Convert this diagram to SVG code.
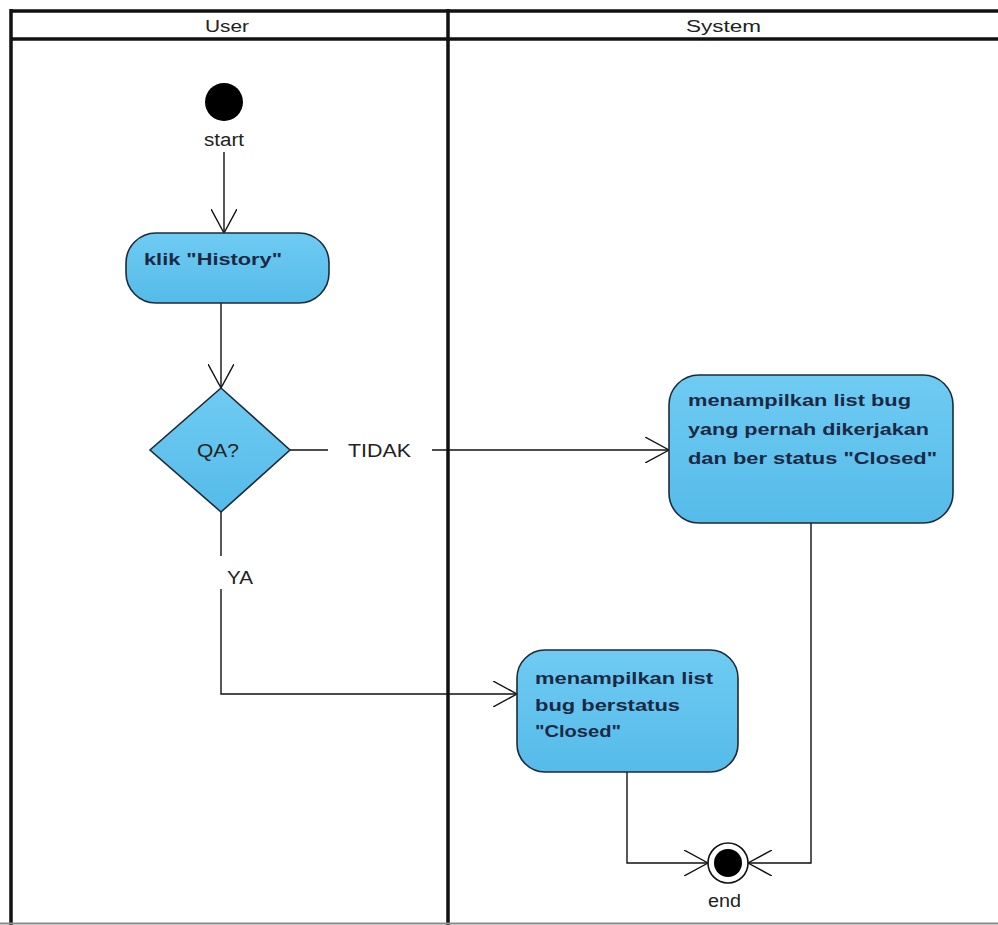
<svg xmlns="http://www.w3.org/2000/svg" width="998" height="925" viewBox="0 0 998 925">
  <style>
    .lane { stroke: #111; stroke-width: 3.5; fill: none; }
    .hdr { font-family: "Liberation Sans", Arial, sans-serif; font-size: 16px; fill: #222; }
    .act { fill: url(#actFill); stroke: #1e2a38; stroke-width: 1.6; }
    .atxt { font-family: "Liberation Sans", Arial, sans-serif; font-size: 17px; font-weight: bold; fill: #1b2945; }
    .lbl { font-family: "Liberation Sans", Arial, sans-serif; font-size: 18px; fill: #222; }
    .flow { stroke: #111; stroke-width: 1.4; fill: none; }
  </style>
  <defs>
    <linearGradient id="actFill" x1="0" y1="0" x2="0" y2="1">
      <stop offset="0" stop-color="#6fcbf2"/>
      <stop offset="1" stop-color="#55bbe9"/>
    </linearGradient>
    <marker id="open" viewBox="0 0 24 26" refX="24" refY="13" markerWidth="24" markerHeight="26" markerUnits="userSpaceOnUse" orient="auto">
      <path d="M0,0 L24,13 L0,26" fill="none" stroke="#111" stroke-width="1.4"/>
    </marker>
  </defs>

  <rect width="998" height="925" fill="#fff"/>

  <!-- swimlanes -->
  <g id="lanes">
    <line class="lane" x1="11" y1="11" x2="998" y2="11"/>
    <line class="lane" x1="11" y1="39" x2="998" y2="39"/>
    <line class="lane" x1="11" y1="9" x2="11" y2="925"/>
    <line class="lane" x1="448" y1="9" x2="448" y2="925"/>
    <line x1="0" y1="923.5" x2="998" y2="923.5" stroke="#8a8a8a" stroke-width="2"/>
    <text class="hdr" x="205" y="32" textLength="44" lengthAdjust="spacingAndGlyphs">User</text>
    <text class="hdr" x="686" y="32" textLength="75" lengthAdjust="spacingAndGlyphs">System</text>
  </g>

  <!-- connectors -->
  <g id="connectors">
    <line class="flow" x1="224" y1="152" x2="224" y2="233" marker-end="url(#open)"/>
    <line class="flow" x1="221" y1="303" x2="221" y2="388" marker-end="url(#open)"/>
    <line class="flow" x1="290" y1="450" x2="328" y2="450"/>
    <line class="flow" x1="432" y1="450" x2="669" y2="450" marker-end="url(#open)"/>
    <line class="flow" x1="221" y1="512" x2="221" y2="556"/>
    <polyline class="flow" points="221,589 221,694 517,694" marker-end="url(#open)"/>
    <polyline class="flow" points="627,772 627,863 708,863" marker-end="url(#open)"/>
    <polyline class="flow" points="811,523 811,863 748,863" marker-end="url(#open)"/>
    <text class="lbl" x="348" y="457" textLength="63" lengthAdjust="spacingAndGlyphs">TIDAK</text>
    <text class="lbl" x="227" y="584" textLength="26" lengthAdjust="spacingAndGlyphs">YA</text>
  </g>

  <!-- start node -->
  <g id="start">
    <circle cx="224" cy="102" r="19" fill="#000"/>
    <text class="lbl" x="204" y="146" font-size="17" textLength="40" lengthAdjust="spacingAndGlyphs">start</text>
  </g>

  <!-- activity: klik History -->
  <g id="klik-history">
    <rect class="act" x="126" y="233" width="203" height="70" rx="30"/>
    <text class="atxt" x="144" y="265" textLength="138" lengthAdjust="spacingAndGlyphs">klik "History"</text>
  </g>

  <!-- decision -->
  <g id="qa-decision">
    <polygon class="act" points="221,388 290,450 221,512 150,450"/>
    <text class="lbl" x="197" y="457" fill="#1b2945" textLength="42" lengthAdjust="spacingAndGlyphs">QA?</text>
  </g>

  <!-- activity: list bug dikerjakan -->
  <g id="list-dikerjakan">
    <rect class="act" x="669" y="375" width="284" height="148" rx="30"/>
    <text class="atxt" x="688" y="406" textLength="223" lengthAdjust="spacingAndGlyphs">menampilkan list bug</text>
    <text class="atxt" x="688" y="435" textLength="241" lengthAdjust="spacingAndGlyphs">yang pernah dikerjakan</text>
    <text class="atxt" x="688" y="464" textLength="249" lengthAdjust="spacingAndGlyphs">dan ber status "Closed"</text>
  </g>

  <!-- activity: list bug closed -->
  <g id="list-closed">
    <rect class="act" x="517" y="650" width="221" height="122" rx="28"/>
    <text class="atxt" x="535" y="684" textLength="178" lengthAdjust="spacingAndGlyphs">menampilkan list</text>
    <text class="atxt" x="535" y="711" textLength="145" lengthAdjust="spacingAndGlyphs">bug berstatus</text>
    <text class="atxt" x="535" y="737" textLength="86" lengthAdjust="spacingAndGlyphs">"Closed"</text>
  </g>

  <!-- end node -->
  <g id="end">
    <circle cx="728" cy="863" r="20" fill="#fff" stroke="#111" stroke-width="1.6"/>
    <circle cx="728" cy="863" r="14" fill="#000"/>
    <text class="lbl" x="708" y="907" font-size="17" textLength="33" lengthAdjust="spacingAndGlyphs">end</text>
  </g>
</svg>
